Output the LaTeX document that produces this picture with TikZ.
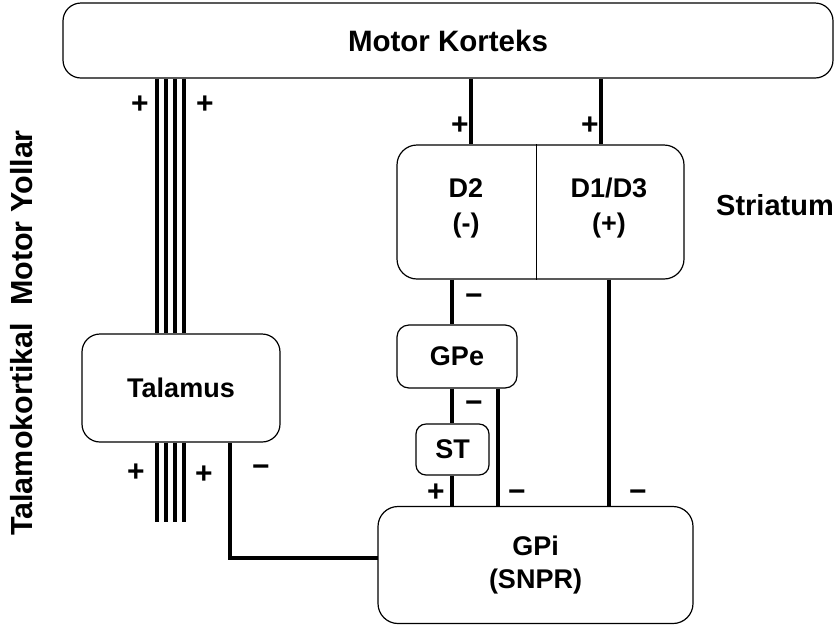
\documentclass[tikz,border=0pt]{standalone}
\usepackage{fontspec}
\setmainfont{Liberation Sans}
\begin{document}
\begin{tikzpicture}[x=1pt,y=-1pt,
  box/.style={draw=black,line width=1.2pt,rounded corners=18pt,inner sep=0pt,align=center,
    font=\fontsize{27}{34}\selectfont\bfseries},
  lbl/.style={inner sep=0pt,align=center,font=\fontsize{27}{35}\selectfont\bfseries},
  sgn/.style={inner sep=0pt,font=\fontsize{30}{30}\selectfont\bfseries},
  wire/.style={line width=4.3pt},
  thin/.style={line width=1pt}]
\useasboundingbox (0,0) rectangle (840,630);
% boxes
\node[box,minimum width=770pt,minimum height=75pt,font=\fontsize{29.5}{34}\selectfont\bfseries] (kor) at (448,40.5) {Motor Korteks};
\node[box,rounded corners=20pt,minimum width=287pt,minimum height=134pt] (str) at (540.5,212) {};
\node[lbl] (d2) at (466,208) {D2\\(-)};
\node[lbl] (d1) at (609,208) {D1/D3\\(+)};
\node[lbl,anchor=west,font=\fontsize{29}{34}\selectfont\bfseries] (strl) at (716,205) {Striatum};
\node[box,minimum width=198pt,minimum height=108pt] (tal) at (181,388) {Talamus};
\node[box,rounded corners=12pt,minimum width=120pt,minimum height=63pt] (gpe) at (457,356.5) {GPe};
\node[box,rounded corners=10pt,minimum width=73pt,minimum height=51pt] (st) at (452.5,449.5) {ST};
\node[box,rounded corners=20pt,minimum width=315pt,minimum height=117pt,font=\fontsize{27}{33}\selectfont\bfseries] (gpi) at (535.5,565) {GPi\\(SNPR)};
\node[lbl,rotate=90,font=\fontsize{30.5}{34}\selectfont\bfseries] (side) at (22,333) {Talamokortikal\ \ Motor Yollar};
% divider inside striatum
\coordinate (dv) at (536,0);
\draw[thin] (dv |- str.north) -- (dv |- str.south);
% x positions of vertical connectors
\coordinate (xa) at (157,0);
\coordinate (xb) at (166,0);
\coordinate (xc) at (175,0);
\coordinate (xd) at (184,0);
\coordinate (xk1) at (471,0);
\coordinate (xk2) at (601,0);
\coordinate (x1) at (452,0);
\coordinate (x2) at (498,0);
\coordinate (x3) at (609,0);
\coordinate (xt) at (230,0);
\coordinate (bundleend) at (0,522);
% bundle cortex <-> thalamus
\foreach \c in {xa,xb,xc,xd}{
  \draw[wire] (\c |- kor.south) -- (\c |- tal.north);
  \draw[wire] (\c |- tal.south) -- (\c |- bundleend);
}
% cortex -> striatum
\draw[wire] (xk1 |- kor.south) -- (xk1 |- str.north);
\draw[wire] (xk2 |- kor.south) -- (xk2 |- str.north);
% striatum -> GPe, GPe -> ST, ST -> GPi
\draw[wire] (x1 |- str.south) -- (x1 |- gpe.north);
\draw[wire] (x1 |- gpe.south) -- (x1 |- st.north);
\draw[wire] (x1 |- st.south) -- (x1 |- gpi.north);
% GPe -> GPi
\draw[wire] (x2 |- gpe.south) -- (x2 |- gpi.north);
% D1/D3 -> GPi
\draw[wire] (x3 |- str.south) -- (x3 |- gpi.north);
% GPi -> Talamus
\coordinate (tj) at (378,558);
\draw[wire,line join=miter] (tj) -| (xt |- tal.south);
% signs
\node[sgn] at (140,105) {+};
\node[sgn] at (205,105) {+};
\node[sgn] at (136,473) {+};
\node[sgn] at (204,475) {+};
\node[sgn] at (261,471) {−};
\node[sgn] at (460,126) {+};
\node[sgn] at (590,126) {+};
\node[sgn] at (474,300) {−};
\node[sgn] at (474,407) {−};
\node[sgn] at (436,493) {+};
\node[sgn] at (517,496) {−};
\node[sgn] at (638,496) {−};
\end{tikzpicture}
\end{document}
